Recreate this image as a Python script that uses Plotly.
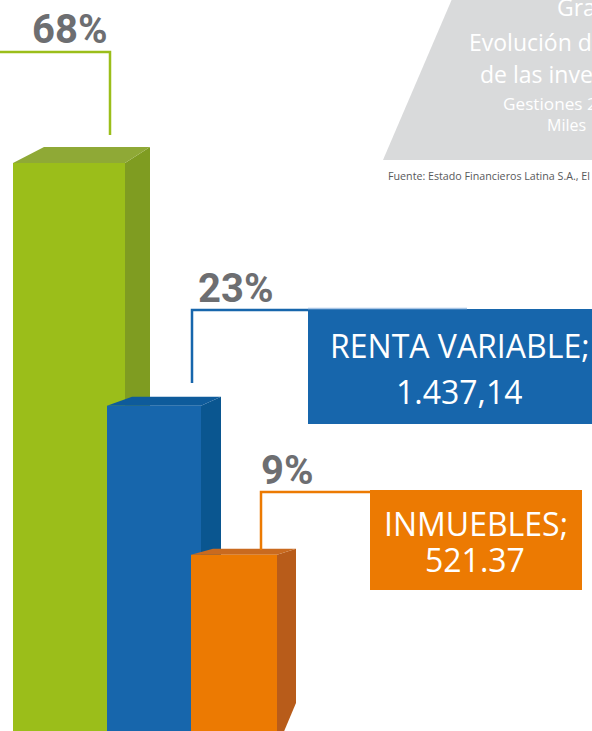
import plotly.graph_objects as go

# ---------------- data ----------------
categories = ["RENTA FIJA", "RENTA VARIABLE", "INMUEBLES"]
shares = ["68%", "23%", "9%"]
amount_labels = ["", "1.437,14", "521.37"]
bar_levels = [77.7, 44.5, 24.1]   # bar heights on the chart's hidden 0-100 scale

title_lines = ["Gra", "Evolución d", "de las inve", "Gestiones 2", "Miles"]
source_note = "Fuente: Estado Financieros Latina S.A., El"

# ---------------- style / geometry ----------------
W, H = 592, 731
front_colors = ["#9BBE1A", "#1766AC", "#EC7A02"]
top_colors = ["#8FA936", "#0E5B9B", "#C96A1F"]
side_colors = ["#7F9C21", "#0A5690", "#B85C1A"]
front_left = [13, 107, 191]
front_width = [112, 94, 86]
depth_left = [31, 25, 22]
depth_right = [25, 20, 19]
depth_up = [16, 9, 6]
GRAY = "#6D6E71"


def yv(py):
    return (H - py) / H * 100.0


floor_front = yv(748)
floor_back = yv(703)

fig = go.Figure()

for i, cat in enumerate(categories):
    lvl = bar_levels[i]
    x0 = front_left[i]
    x1 = x0 + front_width[i]
    du = depth_up[i] / H * 100.0
    # side face
    fig.add_trace(go.Scatter(
        x=[x1, x1 + depth_right[i], x1 + depth_right[i], x1, x1],
        y=[lvl, lvl + du, floor_back, floor_front, lvl],
        mode="lines", fill="toself", fillcolor=side_colors[i],
        line=dict(width=0, color=side_colors[i]), hoverinfo="skip", showlegend=False))
    # top face
    fig.add_trace(go.Scatter(
        x=[x0, x1, x1 + depth_right[i], x0 + depth_left[i], x0],
        y=[lvl, lvl, lvl + du, lvl + du, lvl],
        mode="lines", fill="toself", fillcolor=top_colors[i],
        line=dict(width=0, color=top_colors[i]), hoverinfo="skip", showlegend=False))
    # front face
    fig.add_trace(go.Scatter(
        x=[x0, x1, x1, x0, x0],
        y=[floor_front, floor_front, lvl, lvl, floor_front],
        mode="lines", fill="toself", fillcolor=front_colors[i],
        line=dict(width=0, color=front_colors[i]), name=cat,
        hoverinfo="skip", showlegend=False))

shapes = []
annotations = []

# title block
shapes.append(dict(type="path", xref="x", yref="y",
                   path=f"M 452,{yv(-1)} L 600,{yv(-1)} L 600,{yv(160)} L 383,{yv(160)} Z",
                   fillcolor="#D9DADB", line=dict(width=0), layer="below"))
# (left x, baseline y, font size, box height)
title_specs = [(555, 15, 23, 30), (467, 50, 23, 30), (478, 82, 23, 30), (501, 109, 17.2, 22), (545, 131, 16, 20)]
for txt, (tx, base, fs, bh) in zip(title_lines, title_specs):
    annotations.append(dict(x=tx, y=yv(base - fs * 0.36), xref="x", yref="y", text=txt,
                            showarrow=False, xanchor="left", yanchor="middle", height=bh,
                            font=dict(family="Open Sans", size=fs, color="#FFFFFF")))
annotations.append(dict(x=386, y=yv(175.5), xref="x", yref="y", text=source_note,
                        showarrow=False, xanchor="left", yanchor="middle",
                        font=dict(family="Open Sans", size=10.7, color="#58595B")))

# leader lines: (vertical x, corner y, bottom y, horizontal far end)
leaders = [(110, 52, 135, -5), (192, 310, 383, 310), (261, 492, 550, 372)]
for i, (vx, ty, by, hx) in enumerate(leaders):
    shapes.append(dict(type="path", xref="x", yref="y",
                       path=f"M {hx},{yv(ty)} L {vx},{yv(ty)} L {vx},{yv(by)}",
                       line=dict(color=front_colors[i], width=2.5)))

# percentage labels
pct_pos = [(69.5, 29), (235, 288), (287, 470)]
for txt, (px, py) in zip(shares, pct_pos):
    annotations.append(dict(x=px, y=yv(py), xref="x", yref="y", text=txt, showarrow=False,
                            xanchor="center", yanchor="middle",
                            font=dict(family="Roboto", size=40, color=GRAY, weight="bold")))

# value boxes
boxes = [None, (308, 309, 620, 424), (370, 490, 582, 590)]
label_pos = [None, ((460, 345), (459, 391)), ((476, 523.5), (475, 559))]
label_size = [None, 32, 32]
for i in range(len(categories)):
    if boxes[i] is None:
        continue
    bx0, by0, bx1, by1 = boxes[i]
    shapes.append(dict(type="rect", xref="x", yref="y", x0=bx0, x1=bx1, y0=yv(by1), y1=yv(by0),
                       fillcolor=front_colors[i], line=dict(width=0)))
    (l1x, l1y), (l2x, l2y) = label_pos[i]
    fs = label_size[i]
    annotations.append(dict(x=l1x, y=yv(l1y), xref="x", yref="y", text=categories[i] + ";",
                            showarrow=False, xanchor="center", yanchor="middle", height=33,
                            font=dict(family="Open Sans", size=fs, color="#FFFFFF")))
    annotations.append(dict(x=l2x, y=yv(l2y), xref="x", yref="y", text=amount_labels[i],
                            showarrow=False, xanchor="center", yanchor="middle", height=33,
                            font=dict(family="Open Sans", size=fs, color="#FFFFFF")))

# thin highlight along the top of the blue box
shapes.append(dict(type="line", xref="x", yref="y", x0=308, x1=467, y0=yv(308.5), y1=yv(308.5),
                   line=dict(color="#A9C5E5", width=1.5)))

fig.update_layout(
    width=W, height=H,
    margin=dict(l=0, r=0, t=0, b=0),
    paper_bgcolor="#FFFFFF", plot_bgcolor="#FFFFFF",
    xaxis=dict(range=[0, W], visible=False, fixedrange=True),
    yaxis=dict(range=[0, 100], visible=False, fixedrange=True),
    shapes=shapes, annotations=annotations, showlegend=False,
)

fig.write_html("out.html", config={"displayModeBar": False},
               post_script="document.body.style.margin='0';")
